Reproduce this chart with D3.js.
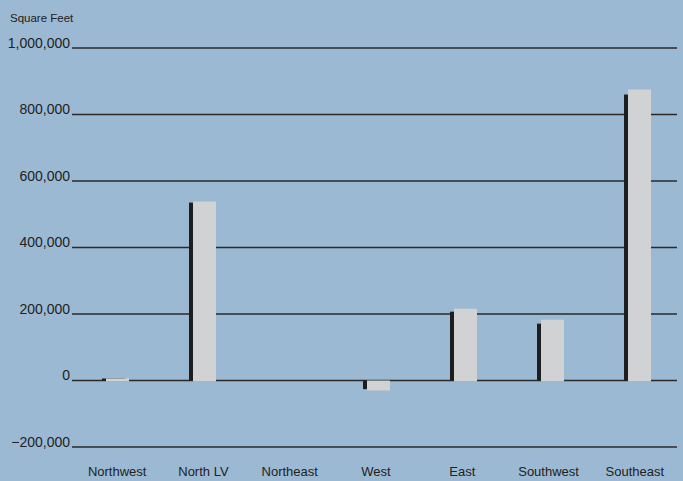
<!DOCTYPE html>
<html>
<head>
<meta charset="utf-8">
<script src="https://cdn.jsdelivr.net/npm/d3@7"></script>
<style>
  body { margin: 0; background: #9bb9d3; }
  svg { display: block; }
  text { font-family: "Liberation Sans", Arial, sans-serif; fill: #222; }
</style>
</head>
<body>
<script>
// square feet by submarket, two series (dark shadow bar and light bar)
var regions = ["Northwest", "North LV", "Northeast", "West", "East", "Southwest", "Southeast"];
var darkValues = [6000, 535000, 0, -26000, 207000, 171000, 860000];
var lightValues = [6000, 538000, 0, -27000, 216000, 183000, 875000];
var yTicks = [-200000, 0, 200000, 400000, 600000, 800000, 1000000];

var width = 683, height = 481;
var plot = {left: 73, right: 677, top: 48, bottom: 447};

var svg = d3.select("body").append("svg")
    .attr("width", width)
    .attr("height", height);

// bars run a little past the gridlines on the right; labels follow the gridlines
var x = d3.scaleBand().domain(regions).range([72, 681]);
var xLabel = d3.scaleBand().domain(regions).range([plot.left + 1, plot.right + 1]);
var y = d3.scaleLinear().domain([-200000, 1000000]).range([plot.bottom, plot.top]);

// gridlines
svg.selectAll(".grid")
    .data(yTicks)
  .enter().append("line")
    .attr("x1", plot.left - 1)
    .attr("x2", plot.right)
    .attr("y1", function(d) { return y(d); })
    .attr("y2", function(d) { return y(d); })
    .attr("stroke", "#2a2a2a")
    .attr("stroke-width", 1.5);

// tick labels
svg.selectAll(".ylab")
    .data(yTicks)
  .enter().append("text")
    .attr("x", 70)
    .attr("y", function(d) { return y(d) - 0.5; })
    .style("text-anchor", "end")
    .style("font-size", "14px")
    .text(function(d) { return d3.format(",")(d); });

svg.append("text")
    .attr("x", 10)
    .attr("y", 22)
    .style("font-size", "11.5px")
    .text("Square Feet");

var barW = 23, shift = 4;

// dark bars sit behind and to the left
svg.selectAll(".dark")
    .data(darkValues)
  .enter().append("rect")
    .attr("x", function(d, i) { return x(regions[i]) + x.bandwidth() / 2 - 13.5; })
    .attr("width", barW)
    .attr("y", function(d) { return Math.min(y(d), y(0)); })
    .attr("height", function(d) { return Math.abs(y(d) - y(0)); })
    .attr("fill", "#1e1e1e");

svg.selectAll(".light")
    .data(lightValues)
  .enter().append("rect")
    .attr("x", function(d, i) { return x(regions[i]) + x.bandwidth() / 2 - 13.5 + shift; })
    .attr("width", barW)
    .attr("y", function(d) { return Math.min(y(d), y(0)); })
    .attr("height", function(d) { return d === 0 ? 0 : Math.abs(y(d) - y(0)) + 1; })
    .attr("fill", "#d0d2d4");

// category labels
svg.selectAll(".xlab")
    .data(regions)
  .enter().append("text")
    .attr("x", function(d) { return xLabel(d) + xLabel.bandwidth() / 2; })
    .attr("y", 476)
    .style("text-anchor", "middle")
    .style("font-size", "13px")
    .text(function(d) { return d; });
</script>
</body>
</html>
